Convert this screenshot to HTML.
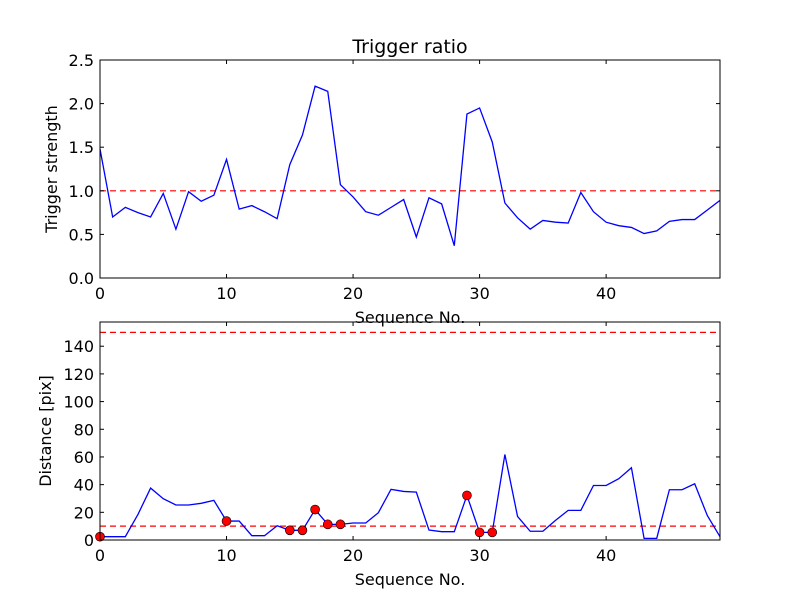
<!DOCTYPE html>
<html><head><meta charset="utf-8"><style>
body{margin:0;background:#fff}
svg{display:block;font-family:"DejaVu Sans","Liberation Sans",sans-serif}
</style></head><body>
<svg id="chart" width="800" height="600" xmlns="http://www.w3.org/2000/svg">
<rect width="800" height="600" fill="#fff"/>
</svg>
<script>
const seq = Array.from({length:50},(_,i)=>i);
const strength = [1.48,0.70,0.81,0.75,0.70,0.97,0.56,0.99,0.88,0.95,1.36,0.79,0.83,0.76,0.68,1.30,1.64,2.20,2.14,1.07,0.93,0.76,0.72,0.81,0.90,0.47,0.92,0.85,0.37,1.88,1.95,1.56,0.86,0.69,0.56,0.66,0.64,0.63,0.98,0.76,0.64,0.60,0.58,0.51,0.54,0.65,0.67,0.67,0.78,0.89];
const distance = [2.4,2.4,2.4,18.5,37.5,29.8,25.3,25.3,26.5,28.6,13.7,13.7,3.1,3.1,10.3,7,7,22,11.3,11.3,12.3,12.3,19.7,36.6,35.1,34.6,7.2,6,6,32.2,5.5,5.5,61.8,17,6.3,6.3,14.2,21.4,21.4,39.4,39.4,44.3,52.2,1.2,1.2,36.3,36.3,40.6,17.6,2.4];
const flagged = [0,10,15,16,17,18,19,29,30,31];
const xTicks = [0,10,20,30,40];
const yTicksTop = [0.0,0.5,1.0,1.5,2.0,2.5];
const yTicksBot = [0,20,40,60,80,100,120,140];
const thrTop = [1.0];
const thrBot = [10,150];

const NS="http://www.w3.org/2000/svg";
const svg=document.getElementById('chart');
function mk(tag,attrs,parent){const e=document.createElementNS(NS,tag);for(const k in attrs)e.setAttribute(k,attrs[k]);(parent||svg).appendChild(e);return e;}

function panel(name,top,bottom,ymin,ymax,yTicks,yFmt,ylabel,ylx,vals,thr,pts){
  const L=100,R=720;
  const sx=v=>L+(v-0)/(49-0)*(R-L);
  const sy=v=>bottom-(v-ymin)/(ymax-ymin)*(bottom-top);
  const g=mk('g',{});
  
  
  thr.forEach(t=>{
    const l=mk('line',{x1:L,x2:R,y1:sy(t),y2:sy(t),stroke:'#ff0000','stroke-width':1.2,'stroke-dasharray':'6,4'},g);
    
    
  });
  const p=mk('polyline',{points:vals.map((v,i)=>sx(seq[i])+','+sy(v)).join(' '),fill:'none',stroke:'#0000ff','stroke-width':1.3},g);
  
  
  if(pts){pts.forEach(i=>{
    const c=mk('ellipse',{cx:sx(seq[i]),cy:sy(vals[i]),rx:4.5,ry:4.5,fill:'#ff0000',stroke:'#000','stroke-width':0.6},g);
    
    
  });}
  const f=mk('rect',{x:L,y:top,width:R-L,height:bottom-top,fill:'none',stroke:'#000','stroke-width':1},g);
  
  
  xTicks.forEach(t=>{
    const x=sx(t);
    mk('line',{x1:x,x2:x,y1:bottom,y2:bottom-4,stroke:'#000'},g);
    mk('line',{x1:x,x2:x,y1:top,y2:top+4,stroke:'#000'},g);
    const tx=mk('text',{x:x,y:bottom+21,'font-size':16,'text-anchor':'middle'},g);
    tx.textContent=t;
    
    
  });
  yTicks.forEach(t=>{
    const y=sy(t);
    mk('line',{x1:L,x2:L+4,y1:y,y2:y,stroke:'#000'},g);
    mk('line',{x1:R,x2:R-4,y1:y,y2:y,stroke:'#000'},g);
    const tx=mk('text',{x:L-6,y:y+6,'font-size':16,'text-anchor':'end'},g);
    tx.textContent=yFmt(t);
    
    
  });
  const xl=mk('text',{x:410,y:bottom+45,'font-size':16,'text-anchor':'middle'},g);
  xl.textContent='Sequence No.';
  
  
  const cy=(top+bottom)/2;
  const yl=mk('text',{x:ylx,y:cy,'font-size':16,'text-anchor':'middle',transform:`rotate(-90 ${ylx} ${cy})`},g);
  yl.textContent=ylabel;
  
  
}
const title=mk('text',{x:410,y:53,'font-size':19,'text-anchor':'middle'});
title.textContent='Trigger ratio';


panel('strength-panel',60,278,0,2.5,yTicksTop,v=>v.toFixed(1),'Trigger strength',57,strength,thrTop,null);
panel('distance-panel',322,540,0,157.5,yTicksBot,v=>String(v),'Distance [pix]',51,distance,thrBot,flagged);
</script>
</body></html>
